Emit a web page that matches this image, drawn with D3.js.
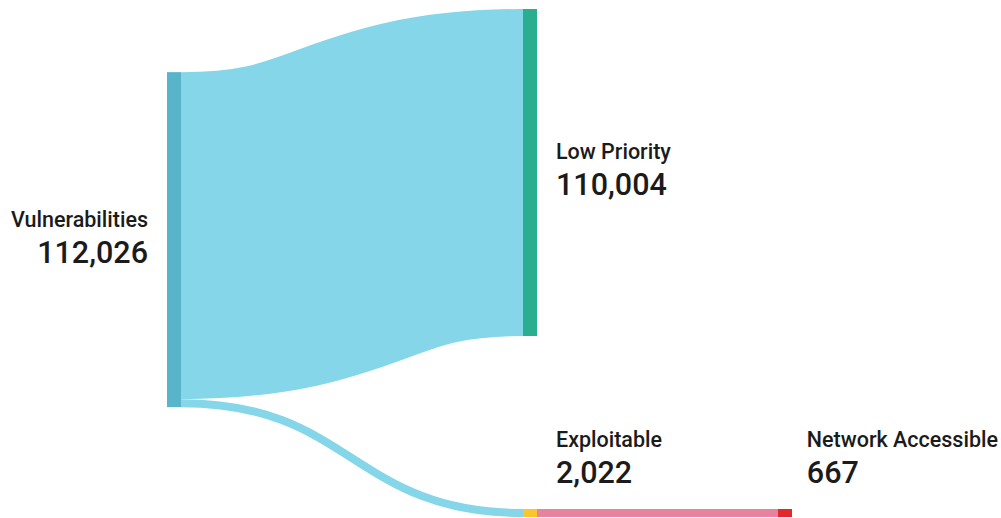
<!DOCTYPE html>
<html>
<head>
<meta charset="utf-8">
<script src="https://cdn.jsdelivr.net/npm/d3@7"></script>
<style>
  html, body { margin: 0; padding: 0; background: #fff; }
  svg { display: block; }
  text { font-family: Roboto, "Noto Sans", sans-serif; fill: #1b1b1b; }
</style>
</head>
<body>
<svg id="chart" width="1001" height="518"></svg>
<script>
// Flow data: vulnerability triage funnel
const nodeNames  = ["Vulnerabilities", "Low Priority", "Exploitable", "Network Accessible"];
const nodeColumn = [0, 1, 1, 2];
const nodeColors = ["#58b4c9", "#29ae8f", "#fbc52b", "#e02a2c"];
const nodeLabelSide = ["left", "right", "above", "above"];

const linkSource = [0, 0, 2];
const linkTarget = [1, 2, 3];
const linkValue  = [110004, 2022, 667];
const linkColors = ["#84d6e8", "#84d6e8", "#e8839f"];

const W = 1001;
const extentTop = 9, extentBottom = 517;
const nodeWidth = 14;
const minLinkWidth = 8;
const sourceAlign = 0.365;   // vertical placement of the first column within free space

const svg = d3.select("#chart");
const fmt = d3.format(",");

// horizontal position of each column
const xCol = d3.scaleLinear().domain([0, 1, 2]).range([167, 523, 778]);
// link thickness from value
const thick = d3.scaleLinear().domain([0, d3.sum(linkValue.slice(0, 2))]).range([0, 333]);

const nodes = nodeNames.map((name, i) => ({
  name, col: nodeColumn[i], color: nodeColors[i], side: nodeLabelSide[i],
  inLinks: [], outLinks: []
}));
const links = linkValue.map((v, i) => ({
  source: nodes[linkSource[i]], target: nodes[linkTarget[i]], value: v,
  color: linkColors[i], width: Math.max(minLinkWidth, thick(v))
}));
links.forEach(l => { l.source.outLinks.push(l); l.target.inLinks.push(l); });

nodes.forEach(n => {
  n.value = Math.max(d3.sum(n.inLinks, l => l.value), d3.sum(n.outLinks, l => l.value));
  n.height = Math.max(d3.sum(n.inLinks, l => l.width), d3.sum(n.outLinks, l => l.width));
  n.x0 = xCol(n.col); n.x1 = n.x0 + nodeWidth;
});

// column 1: spread nodes over the full height
const col1 = nodes.filter(n => n.col === 1);
const pad = (extentBottom - extentTop - d3.sum(col1, n => n.height)) / (col1.length - 1);
let yy = extentTop;
col1.forEach(n => { n.y0 = yy; n.y1 = yy + n.height; yy = n.y1 + pad; });
// column 0: placed within the free vertical space
nodes.filter(n => n.col === 0).forEach(n => {
  n.y0 = extentTop + sourceAlign * (extentBottom - extentTop - n.height); n.y1 = n.y0 + n.height;
});
// column 2: aligned with its source node
nodes.filter(n => n.col === 2).forEach(n => {
  n.y0 = n.inLinks[0].source.y0; n.y1 = n.y0 + n.height;
});

// link offsets within nodes
nodes.forEach(n => {
  let o = n.y0;
  n.outLinks.forEach(l => { l.sy = o + l.width / 2; o += l.width; });
  o = n.y0;
  n.inLinks.forEach(l => { l.ty = o + l.width / 2; o += l.width; });
});

const linkGen = d3.linkHorizontal();
svg.append("g").attr("fill", "none")
  .selectAll("path").data(links).join("path")
  .attr("d", l => linkGen({ source: [l.source.x1, l.sy], target: [l.target.x0, l.ty] }))
  .attr("stroke", l => l.color)
  .attr("stroke-width", l => l.width);

svg.append("g").selectAll("rect").data(nodes).join("rect")
  .attr("x", n => n.x0).attr("y", n => n.y0)
  .attr("width", nodeWidth).attr("height", n => n.height)
  .attr("fill", n => n.color);

// labels: name over value
const lab = svg.append("g").selectAll("g").data(nodes).join("g")
  .attr("text-anchor", n => n.side === "left" ? "end" : "start");

lab.append("text")
  .attr("class", "name")
  .attr("y", 0)
  .style("font-size", "21.5px").style("font-weight", 500)
  .text(n => n.name);
lab.append("text")
  .attr("y", 36)
  .style("font-size", "30.5px").style("font-weight", 500)
  .text(n => fmt(n.value));

// position label groups, keeping them inside the drawing area
lab.attr("transform", function (n) {
  const w = this.getBBox().width;
  if (n.side === "left") return `translate(${n.x0 - 19},${(n.y0 + n.y1) / 2 - 13})`;
  const x = Math.min(n.x1 + 19, W - w - 3);
  if (n.side === "right") return `translate(${x},${(n.y0 + n.y1) / 2 - 13})`;
  return `translate(${x},${n.y0 - 62})`;
});
</script>
</body>
</html>
